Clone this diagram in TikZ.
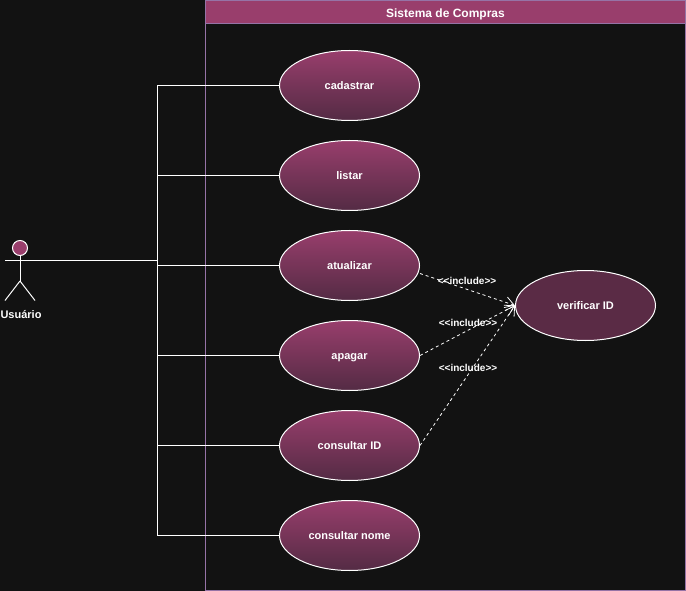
\documentclass[tikz,border=0pt]{standalone}
\usepackage{fontspec}
\setmainfont{Liberation Sans}
\usetikzlibrary{shapes.geometric,arrows.meta}
\definecolor{bgdark}{HTML}{121212}
\definecolor{framec}{HTML}{9673A6}
\definecolor{titlec}{HTML}{993E6C}
\definecolor{topc}{HTML}{993E6C}
\definecolor{botc}{HTML}{532B44}
\definecolor{flatc}{HTML}{5A2B45}
\tikzset{
  usecase/.style={ellipse,draw=white,line width=1pt,minimum width=140pt,minimum height=70pt,inner sep=0pt,top color=topc,bottom color=botc,text=white,text height=8pt,text depth=0pt,font=\bfseries\fontsize{11}{13}\selectfont},
  flatcase/.style={usecase,top color=flatc,bottom color=flatc},
  link/.style={draw=white,line width=1pt},
  incl/.style={draw=white,line width=0.8pt,dash pattern=on 3pt off 3pt,-{Straight Barb[length=9pt,width=11pt,line width=0.8pt]}},
  incllabel/.style={text=white,font=\bfseries\fontsize{10}{12}\selectfont,inner sep=0pt},
  framebox/.style={draw=framec,line width=1pt}
}
\begin{document}
\begin{tikzpicture}[x=1pt,y=-1pt]
\useasboundingbox (0,0) rectangle (686,591);
\fill[bgdark] (0,0) rectangle (686,591);
% system frame
\draw[framebox] (205.5,23.5) rectangle (685.5,590.5);
\node[framebox,fill=titlec,minimum width=480pt,minimum height=23pt,inner sep=0pt,outer sep=0pt,anchor=north west,text=white,text height=10.6pt,text depth=0pt,font=\bfseries\fontsize{12}{14}\selectfont] (title) at (205.5,0.5) {Sistema de Compras};
% actor
\coordinate (armL) at (5,260);
\coordinate (hip) at (20,281);
\coordinate (legL) at (5,300.5);
\coordinate (legR) at (35,300.5);
\node[circle,draw=white,fill=titlec,line width=1pt,minimum size=15pt,inner sep=0pt] (head) at (20,248) {};
\draw[link] (head.south) -- (hip);
\draw[link] (hip) -- (legL);
\draw[link] (hip) -- (legR);
\node[text=white,font=\bfseries\fontsize{11}{13}\selectfont,inner sep=0pt,text height=9pt,text depth=0pt] (actor) at (21,314) {Usuário};
% trunk
\coordinate (trunkBot) at (157.5,535);
\coordinate (trunkMid) at (157.5,260);
% use cases
\node[usecase] (cad) at (349.5,85.5) {cadastrar};
\node[usecase] (lis) at (349.5,175.5) {listar};
\node[usecase] (atu) at (349.5,265.5) {atualizar};
\node[usecase] (apa) at (349.5,355.5) {apagar};
\node[usecase] (cid) at (349.5,445.5) {consultar ID};
\node[usecase] (cno) at (349.5,535.5) {consultar nome};
\node[flatcase] (ver) at (585.5,305.5) {verificar ID};
% associations
\draw[link] (armL) -- (trunkMid);
\draw[link] (trunkBot |- cad.west) -- (trunkBot |- cno.west);
\foreach \n in {cad,lis,atu,apa,cid,cno}{
  \draw[link] (trunkBot |- \n.west) -- (\n.west);
}
% include
\draw[incl] ([yshift=-8pt]atu.east) -- (ver.west);
\draw[incl] (apa.east) -- (ver.west);
\draw[incl] (cid.east) -- (ver.west);
\node[incllabel] (l1) at (467,280.5) {<{}<include>{}>};
\node[incllabel] (l2) at (468,322.5) {<{}<include>{}>};
\node[incllabel] (l3) at (468,367.5) {<{}<include>{}>};
\end{tikzpicture}
\end{document}
